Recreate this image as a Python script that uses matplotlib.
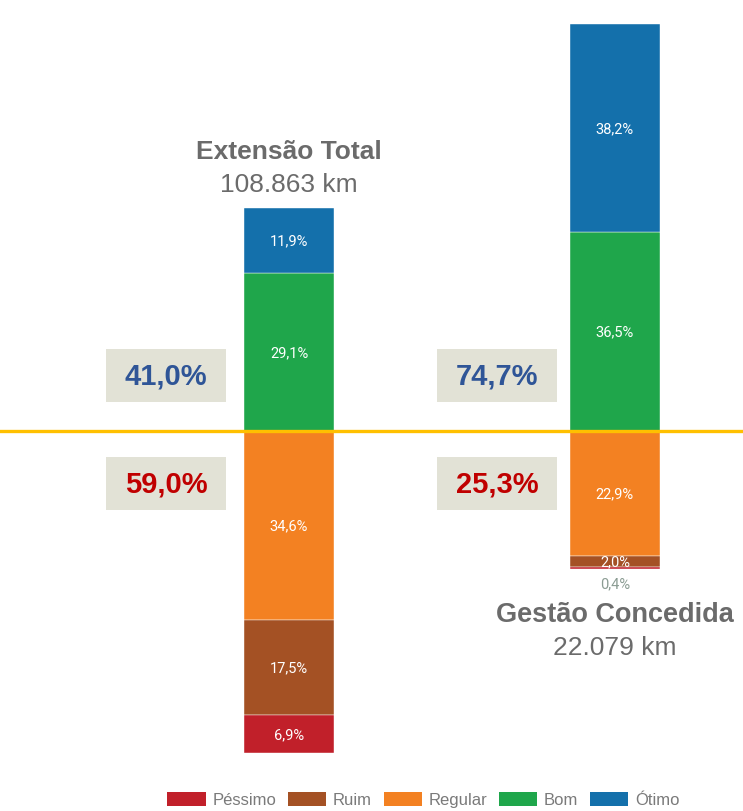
import matplotlib.pyplot as plt
from matplotlib.patches import Patch, Rectangle

# Dados (percentual da extensão por condição)
categorias = ['Péssimo', 'Ruim', 'Regular', 'Bom', 'Ótimo']
cores = ['#c1202a', '#a45124', '#f38122', '#1fa64b', '#1470ab']
extensao_total = [6.9, 17.5, 34.6, 29.1, 11.9]
gestao_concedida = [0.4, 2.0, 22.9, 36.5, 38.2]
rotulos_total = ['6,9%', '17,5%', '34,6%', '29,1%', '11,9%']
rotulos_concedida = ['0,4%', '2,0%', '22,9%', '36,5%', '38,2%']
resumo_total = ['41,0%', '59,0%']
resumo_concedida = ['74,7%', '25,3%']
titulos = ['Extensão Total', 'Gestão Concedida']
subtitulos = ['108.863 km', '22.079 km']

plt.rcParams['font.family'] = ['Liberation Sans', 'DejaVu Sans']

fig = plt.figure(figsize=(7.43, 8.12), dpi=100)
ax = fig.add_axes([0, 0, 1, 1])
ax.set_xlim(-0.887, 1.393)
ax.set_ylim(-69.7, 79.3)
ax.axis('off')

largura = 0.275
n_neg = 3  # Péssimo, Ruim, Regular ficam abaixo do zero


def desenha_barra(x, valores, rotulos):
    # parte negativa: empilha a partir do zero para baixo (Regular, Ruim, Péssimo)
    base = 0
    for i in range(n_neg - 1, -1, -1):
        v = valores[i]
        ax.bar(x, -v, bottom=base, width=largura, color=cores[i],
               edgecolor='white', linewidth=0.3)
        centro = base - v / 2
        if v < 1:
            ax.text(x, base - v - 2.6, rotulos[i], ha='center', va='center',
                    fontsize=10.5, color='#8b9c93', family='Roboto')
        else:
            ax.text(x, centro, rotulos[i], ha='center', va='center',
                    fontsize=10.5, color='white', family='Roboto')
        base -= v
    # parte positiva
    base = 0
    for i in range(n_neg, len(valores)):
        v = valores[i]
        ax.bar(x, v, bottom=base, width=largura, color=cores[i],
               edgecolor='white', linewidth=0.3)
        ax.text(x, base + v / 2, rotulos[i], ha='center', va='center',
                fontsize=10.5, color='white', family='Roboto')
        base += v
    return base


topo_total = desenha_barra(0, extensao_total, rotulos_total)
desenha_barra(1, gestao_concedida, rotulos_concedida)

# linha do zero
ax.axhline(0, color='#ffc000', linewidth=2.4, zorder=5)


def caixa_resumo(xc, texto_pos, texto_neg):
    w, h = 0.368, 9.7
    for yc, txt, cor in [(10.2, texto_pos, '#2f5597'), (-9.6, texto_neg, '#c00000')]:
        ax.add_patch(Rectangle((xc - w / 2, yc - h / 2), w, h,
                               facecolor='#e2e2d6', edgecolor='none'))
        ax.text(xc, yc, txt, ha='center', va='center', fontsize=21,
                fontweight='bold', color=cor)


caixa_resumo(-0.377, *resumo_total)
caixa_resumo(0.638, *resumo_concedida)

# títulos
ax.text(0.0, topo_total + 10.4, titulos[0], ha='center', va='center',
        fontsize=19, fontweight='bold', color='#6b6b6b')
ax.text(0.0, topo_total + 4.4, subtitulos[0], ha='center', va='center',
        fontsize=19, color='#6b6b6b')
ax.text(1.0, -33.6, titulos[1], ha='center', va='center',
        fontsize=19.5, fontweight='bold', color='#6b6b6b')
ax.text(1.0, -39.6, subtitulos[1], ha='center', va='center',
        fontsize=19, color='#6b6b6b')

# legenda
handles = [Patch(facecolor=c, edgecolor='none') for c in cores]
fig.legend(handles, categorias, loc='lower center', bbox_to_anchor=(0.57, -0.014),
           ncol=5, frameon=False, fontsize=12, handlelength=2.3, handleheight=0.9,
           columnspacing=0.7, handletextpad=0.4, labelcolor='#7a7a7a')

fig.savefig('out.png', dpi=100)
